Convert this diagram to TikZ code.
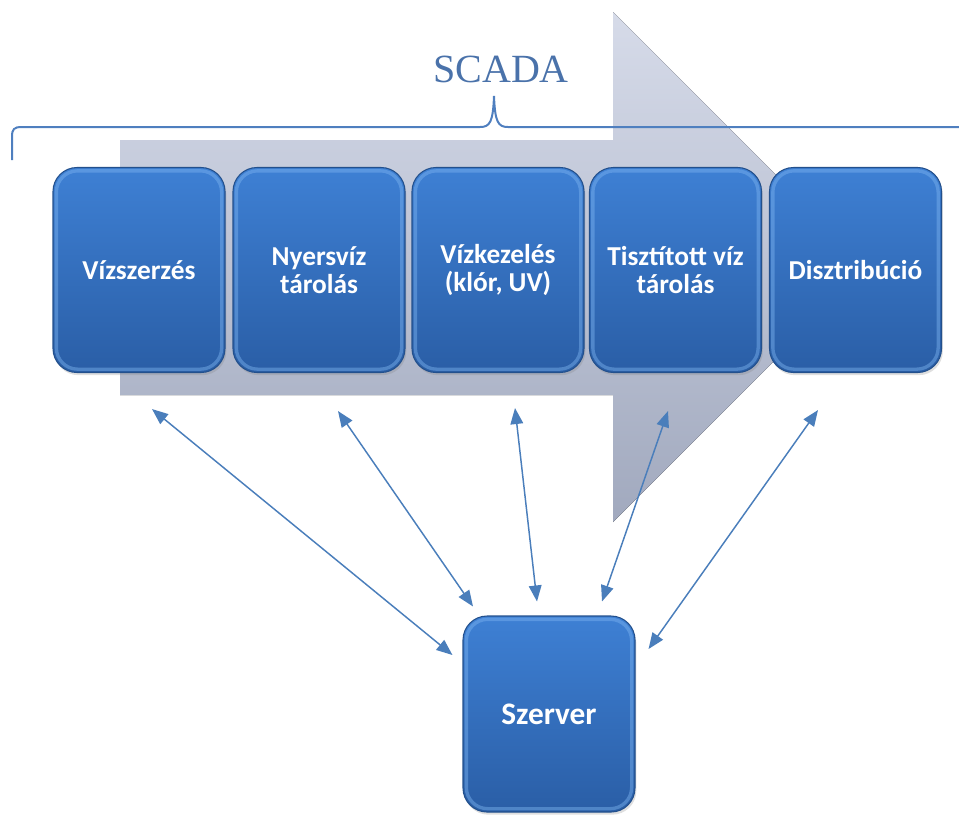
\documentclass[tikz,border=0pt]{standalone}
\usepackage{fontspec}
\setmainfont{Carlito}
\newfontfamily\scadafont{Liberation Serif}
\usetikzlibrary{arrows.meta,calc,shadows}
\definecolor{boxtop}{HTML}{3E80D4}
\definecolor{boxbot}{HTML}{2A5EA6}
\definecolor{boxedge}{HTML}{23508C}
\definecolor{boxrim}{HTML}{7DB4F0}
\definecolor{linkblue}{HTML}{4A7EBB}
\definecolor{scadablue}{HTML}{4A72AA}
\definecolor{bracketblue}{HTML}{4F7FBF}
\definecolor{arrtop}{HTML}{D6DBE9}
\definecolor{arrbot}{HTML}{A1A9BE}
\begin{document}
\begin{tikzpicture}[x=0.75pt,y=-0.75pt,
  stage/.style={rounded corners=18pt, minimum width=129pt, minimum height=153.75pt,
    inner sep=0pt, top color=boxtop, bottom color=boxbot, draw=boxedge, line width=0.8pt,
    text=white, font=\bfseries\fontsize{20.5pt}{21pt}\selectfont, align=center,
    drop shadow={opacity=0.25, shadow xshift=1pt, shadow yshift=-2pt},
    path picture={\draw[boxrim, line width=2.5pt, opacity=0.45, rounded corners=16pt]
      ([shift={(2.5pt,-2.5pt)}]path picture bounding box.north west) rectangle
      ([shift={(-2.5pt,2.5pt)}]path picture bounding box.south east);}},
  link/.style={draw=linkblue, line width=1.1pt,
    {Triangle[length=12pt,width=9.5pt]}-{Triangle[length=12pt,width=9.5pt]}},
  bracket/.style={draw=bracketblue, line width=1.5pt}
]
\useasboundingbox (0,0) rectangle (959,819);
% big background arrow
\fill[top color=arrtop, bottom color=arrbot]
  (120,140) -- (613,140) -- (613,12) -- (868,267) -- (613,522) -- (613,395) -- (120,395) -- cycle;
% SCADA label and bracket
\node[font=\scadafont\fontsize{30pt}{30pt}\selectfont, text=scadablue, inner sep=0pt] (scada) at (501,69) {SCADA};
\draw[bracket] (12,160) -- (12,137) .. controls (12,129) and (14,127) .. (22,127) -- (480,127)
  .. controls (490,127) and (493,122) .. (494,96) .. controls (495,122) and (498,127) .. (508,127) -- (959,127);
% stages
\node[stage] (b1) at (139,270) {Vízszerzés};
\node[stage] (b2) at (319,270) {Nyersvíz\\tárolás};
\node[stage] (b3) at (498,270) {Vízkezelés\\(klór, UV)};
\node[stage] (b4) at (675.5,270) {Tisztított víz\\tárolás};
\node[stage] (b5) at (855.5,270) {Disztribúció};
\node[stage, minimum height=147pt, font=\bfseries\fontsize{23.5pt}{24pt}\selectfont] (srv) at (549,714) {Szerver};
% link end points
\coordinate (t1) at ($(b1.south)+(13,36)$);
\coordinate (t2) at ($(b2.south)+(19,38)$);
\coordinate (t3) at ($(b3.south)+(17,35)$);
\coordinate (t4) at ($(b4.south)+(-7.5,38)$);
\coordinate (t5) at ($(b5.south)+(-37.5,37)$);
\coordinate (s1) at ($(srv.west)+(-10,-59)$);
\coordinate (s2) at ($(srv.north)+(-76,-9)$);
\coordinate (s3) at ($(srv.north)+(-12,-14)$);
\coordinate (s4) at ($(srv.north)+(53,-14)$);
\coordinate (s5) at ($(srv.east)+(13,-65)$);
\draw[link] (t1) -- (s1);
\draw[link] (t2) -- (s2);
\draw[link] (t3) -- (s3);
\draw[link] (t4) -- (s4);
\draw[link] (t5) -- (s5);
\end{tikzpicture}
\end{document}
